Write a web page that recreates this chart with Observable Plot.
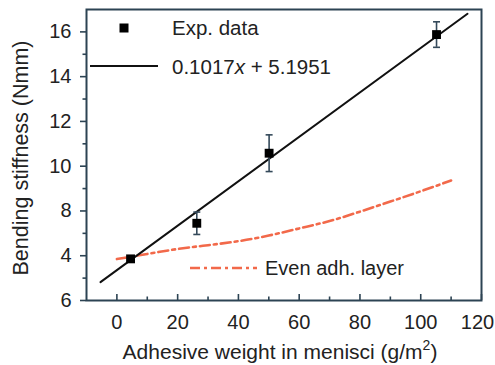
<!DOCTYPE html>
<html>
<head>
<meta charset="utf-8">
<script src="https://cdn.jsdelivr.net/npm/d3@7"></script>
<script src="https://cdn.jsdelivr.net/npm/@observablehq/plot@0.6"></script>
<style>
  html, body { margin: 0; padding: 0; background: #fff; }
  #chart { width: 495px; height: 365px; }
</style>
</head>
<body>
<div id="chart"></div>
<script>
// ---- data ----
const expX   = [4.5, 26.3, 50.1, 105.2];
const expY   = [5.86, 7.45, 10.58, 15.88];
const expErr = [0.12, 0.5, 0.82, 0.57];

const fitX = [-5.4, 115.4];
const fitY = [4.82, 16.81];

const evenX = [0, 10, 20, 30, 40, 50, 60, 70, 80, 90, 100, 110];
const evenY = [5.85, 6.08, 6.3, 6.47, 6.65, 6.9, 7.22, 7.55, 7.97, 8.42, 8.88, 9.36];

const xTicks = [0, 20, 40, 60, 80, 100, 120];
const xMinor = [10, 30, 50, 70, 90, 110];
const yTicks = [4, 6, 8, 10, 12, 14, 16];
const yTickLabels = ["6", "4", "8", "10", "12", "14", "16"];
const yMinor = [5, 7, 9, 11, 13, 15];

const xTitle = "Adhesive weight in menisci (g/m";
const xTitleSup = "2";
const yTitle = "Bending stiffness (Nmm)";
const legendExp = "Exp. data";
const legendFit = ["0.1017", "x", " + 5.1951"];
const legendEven = "Even adh. layer";

// ---- build ----
const expData = expX.map((x, i) => ({x, y: expY[i], lo: expY[i] - expErr[i], hi: expY[i] + expErr[i]}));
const fitData = fitX.map((x, i) => ({x, y: fitY[i]}));
const evenData = evenX.map((x, i) => ({x, y: evenY[i]}));

const frameColor = "#2c4353";
const red = "#f2694a";
const font = "'Liberation Sans', Arial, Helvetica, sans-serif";

const capSymbol = {
  draw(context, size) {
    const r = Math.sqrt(size / Math.PI);
    context.moveTo(-r, 0);
    context.lineTo(r, 0);
  }
};

const lastTick = xTicks[xTicks.length - 1];

const plot = Plot.plot({
  width: 495,
  height: 365,
  marginLeft: 86,
  marginRight: 14,
  marginTop: 9,
  marginBottom: 65,
  x: {domain: [-10, 120]},
  y: {domain: [4, 17]},
  style: {fontFamily: font, fontSize: "20px", color: "#222", background: "white"},
  marks: [
    Plot.line(evenData, {x: "x", y: "y", curve: "natural", stroke: red, strokeWidth: 2.6, strokeDasharray: "10,4,3,4"}),
    Plot.line(fitData, {x: "x", y: "y", stroke: "#111", strokeWidth: 2}),
    Plot.ruleX(expData, {x: "x", y1: "lo", y2: "hi", stroke: "#34495a", strokeWidth: 1.6}),
    Plot.dot(expData, {x: "x", y: "lo", symbol: capSymbol, r: 3.5, stroke: "#34495a", strokeWidth: 1.6}),
    Plot.dot(expData, {x: "x", y: "hi", symbol: capSymbol, r: 3.5, stroke: "#34495a", strokeWidth: 1.6}),
    Plot.dot(expData, {x: "x", y: "y", symbol: "square", r: 5, fill: "#000", stroke: null}),
    Plot.axisY(yTicks, {tickSize: 6, tickPadding: 9, stroke: frameColor, strokeWidth: 1.6, fill: "#222", fontSize: 20,
      tickFormat: (d) => yTickLabels[yTicks.indexOf(d)], label: null}),
    Plot.axisY(yMinor, {tickSize: 3.5, stroke: frameColor, strokeWidth: 1.6, tickFormat: () => "", label: null}),
    Plot.axisX(xTicks, {tickSize: -6, stroke: frameColor, strokeWidth: 1.6, tickFormat: () => "", label: null}),
    Plot.axisX(xMinor, {tickSize: -3.5, stroke: frameColor, strokeWidth: 1.6, tickFormat: () => "", label: null}),
    Plot.axisX(xTicks.filter((d) => d !== lastTick), {tickSize: 0, tickPadding: 14, fill: "#222", fontSize: 20, label: null}),
    Plot.axisX([lastTick], {tickSize: 0, tickPadding: 14, fill: "#222", fontSize: 20, label: null, dx: -4}),
    Plot.frame({stroke: frameColor, strokeWidth: 2})
  ]
});

const svg = d3.select(plot);
const g = svg.append("g").attr("font-family", font).attr("font-size", 20).attr("fill", "#222").attr("text-anchor", "start");

// legend
g.append("rect").attr("x", 119.5).attr("y", 23.5).attr("width", 9).attr("height", 9).attr("fill", "#000");
g.append("text").attr("x", 172).attr("y", 35).attr("font-size", 20.5).text(legendExp);
g.append("line").attr("x1", 90).attr("x2", 158).attr("y1", 66).attr("y2", 66).attr("stroke", "#111").attr("stroke-width", 2);
const ft = g.append("text").attr("x", 172).attr("y", 73.5).attr("font-size", 20.5);
ft.append("tspan").text(legendFit[0]);
ft.append("tspan").attr("font-style", "italic").text(legendFit[1]);
ft.append("tspan").text(legendFit[2]);
g.append("line").attr("x1", 190).attr("x2", 257).attr("y1", 268).attr("y2", 268)
  .attr("stroke", red).attr("stroke-width", 2.6).attr("stroke-dasharray", "10,4,3,4");
g.append("text").attr("x", 265).attr("y", 275).text(legendEven);

// axis titles
const xt = g.append("text").attr("x", 280).attr("y", 359).attr("text-anchor", "middle").attr("font-size", 21);
xt.append("tspan").text(xTitle);
xt.append("tspan").attr("font-size", 14).attr("dy", -9).text(xTitleSup);
xt.append("tspan").attr("dy", 9).text(")");
g.append("text").attr("transform", "translate(28,158) rotate(-90)").attr("text-anchor", "middle").attr("font-size", 21.5).text(yTitle);

document.getElementById("chart").appendChild(plot);
</script>
</body>
</html>
